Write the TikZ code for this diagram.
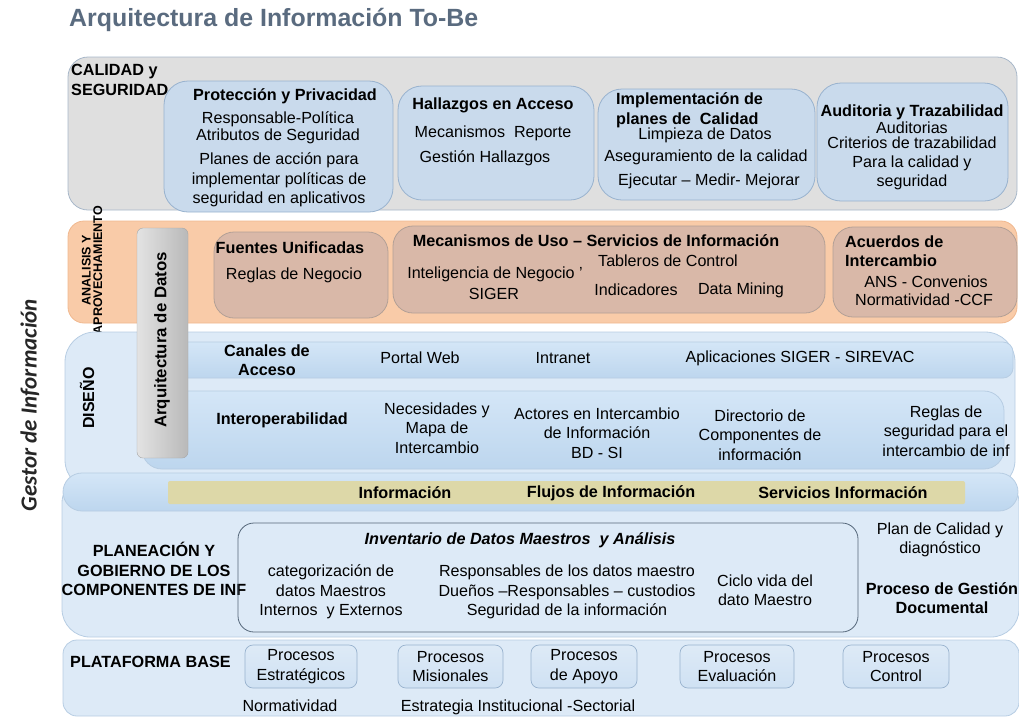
\documentclass[tikz,border=0pt]{standalone}
\usepackage{fontspec}
\setmainfont{Liberation Sans}
\newfontfamily\gestorfont{Carlito}

\definecolor{titulo}{HTML}{5A6B7F}
\definecolor{grisband}{HTML}{DFDFDF}
\definecolor{grisborde}{HTML}{A7B7C9}
\definecolor{azulcaja}{HTML}{C9DAEC}
\definecolor{azulborde}{HTML}{98B2CE}
\definecolor{naranja}{HTML}{F9CBA8}
\definecolor{naranjaborde}{HTML}{F0B88F}
\definecolor{cafecaja}{HTML}{D9B8A8}
\definecolor{cafeborde}{HTML}{B3A096}
\definecolor{azulband}{HTML}{DDEAF7}
\definecolor{azulbandborde}{HTML}{B7CDE3}
\definecolor{franjaarriba}{HTML}{D4E6F7}
\definecolor{franjaabajo}{HTML}{BDD6EE}
\definecolor{caqui}{HTML}{DDD8A8}
\definecolor{procfill}{HTML}{CFE1F3}
\definecolor{inventborde}{HTML}{55677A}

\tikzset{
  banda/.style={line width=0.8pt, rounded corners=#1},
  caja/.style={draw=azulborde, fill=azulcaja, line width=0.8pt, rounded corners=24pt},
  cajacafe/.style={draw=cafeborde, fill=cafecaja, line width=0.8pt, rounded corners=20pt},
  franja/.style={draw=azulbandborde, top color=franjaarriba, bottom color=franjaabajo, line width=0.8pt},
  txt/.style={font=\fontsize{16.1}{19.5}\selectfont, align=center},
  tit/.style={font=\bfseries\fontsize{16.2}{19.5}\selectfont, align=center},
  proceso/.style={txt, draw=azulborde, top color=procfill!70!white, bottom color=procfill, line width=0.7pt,
    rounded corners=8pt, minimum height=43pt, inner sep=2pt}
}

\begin{document}
\begin{tikzpicture}[x=1pt,y=1pt]
\tikzstyle{every node}+=[inner sep=0pt]
\useasboundingbox (0,0) rectangle (1019,-716);

\node [anchor=west, text=titulo, font=\bfseries\fontsize{24.9}{28}\selectfont] (titulo) at (69,-20) {Arquitectura de Información To-Be};
\node [rotate=90, font=\gestorfont\bfseries\itshape\fontsize{23}{26}\selectfont, text=black!85] (gestor) at (30,-405) {Gestor de Información};

% calidad y seguridad
\draw [banda=20pt, draw=grisborde, fill=grisband] (68,-57) rectangle (1017,-210);
\node [tit, anchor=west, align=left] (calidad) at (71,-80) {CALIDAD y\\SEGURIDAD};
\draw [caja] (164,-81) rectangle (393,-212);
\draw [caja] (398,-86) rectangle (594,-200);
\draw [caja] (598,-89) rectangle (815,-200);
\draw [caja] (817,-83) rectangle (1008,-201);
\node [tit] (proteccion) at (285,-96) {Protección y Privacidad};
\node [txt, font=\fontsize{16.1}{17}\selectfont] (responsable) at (278,-128) {Responsable-Política\\Atributos de Seguridad};
\node [txt] (planes) at (279,-180) {Planes de acción para\\implementar políticas de\\seguridad en aplicativos};
\node [tit] (hallazgos) at (493,-105) {Hallazgos en Acceso};
\node [txt] (reporte) at (493,-133) {Mecanismos\ \ Reporte};
\node [txt] (gestionh) at (485,-158) {Gestión Hallazgos};
\node [tit, anchor=west, align=left] (implementacion) at (616,-110) {Implementación de\\planes de\ \ Calidad};
\node [txt] (limpieza) at (705,-135) {Limpieza de Datos};
\node [txt] (aseguramiento) at (706,-157) {Aseguramiento de la calidad};
\node [txt] (ejecutar) at (709,-181) {Ejecutar -- Medir- Mejorar};
\node [tit] (auditoria) at (912,-112) {Auditoria y Trazabilidad};
\node [txt, font=\fontsize{16.1}{15}\selectfont] (criterios) at (912,-135) {Auditorias\\Criterios de trazabilidad};
\node [txt] (paracalidad) at (912,-173) {Para la calidad y\\seguridad};

% analisis y aprovechamiento
\draw [banda=16pt, draw=naranjaborde, fill=naranja] (68,-221) rectangle (1017,-323);
\node [rotate=90, font=\bfseries\fontsize{12.5}{11.5}\selectfont, align=center] (analisis) at (92,-270) {ANALISIS Y\\APROVECHAMIENTO};
\draw [cajacafe] (214,-232) rectangle (388,-318);
\draw [cajacafe] (393,-226) rectangle (825,-313);
\draw [cajacafe] (833,-227) rectangle (1017,-317);
\node [tit] (fuentes) at (290,-248) {Fuentes Unificadas};
\node [txt] (reglasneg) at (294,-275) {Reglas de Negocio};
\node [tit] (mecanismos) at (596,-241) {Mecanismos de Uso -- Servicios de Información};
\node [txt] (tableros) at (668,-261) {Tableros de Control};
\node [txt] (inteligencia) at (495,-274) {Inteligencia de Negocio '};
\node [txt] (siger) at (494,-294) {SIGER};
\node [txt] (indicadores) at (636,-290) {Indicadores};
\node [txt] (mining) at (741,-290) {Data Mining};
\node [tit, anchor=west, align=left] (acuerdos) at (845,-251) {Acuerdos de\\Intercambio};
\node [txt] (ans) at (926,-282) {ANS - Convenios};
\node [txt] (normaccf) at (924,-300) {Normatividad -CCF};

% diseno
\draw [banda=30pt, draw=azulbandborde, fill=azulband] (65,-332) rectangle (1015,-490);
\draw [franja, rounded corners=10pt] (140,-342) rectangle (1013,-378);
\draw [franja, rounded corners=20pt] (142,-391) rectangle (1004,-469);
\node [rotate=90, font=\bfseries\fontsize{16}{18}\selectfont] (diseno) at (87,-398) {DISEÑO};
\node [tit] (canales) at (267,-360) {Canales de\\Acceso};
\node [txt] (portal) at (420,-358) {Portal Web};
\node [txt] (intranet) at (563,-358) {Intranet};
\node [txt] (aplicaciones) at (800,-358) {Aplicaciones SIGER - SIREVAC};
\node [tit] (interop) at (282,-420) {Interoperabilidad};
\node [txt] (necesidades) at (437,-428) {Necesidades y\\Mapa de\\Intercambio};
\node [txt] (actores) at (597,-433) {Actores en Intercambio\\de Información\\BD - SI};
\node [txt] (directorio) at (760,-435) {Directorio de\\Componentes de\\información};
\node [txt] (reglasseg) at (946,-431) {Reglas de\\seguridad para el\\intercambio de inf};

% arquitectura de datos
\draw [rounded corners=6pt, draw=gray!70, left color=gray!22, right color=gray!55] (137,-228) rectangle (188,-458);
\node [rotate=90, font=\bfseries\fontsize{16.8}{20}\selectfont] (arquitectura) at (162,-340) {Arquitectura de Datos};

% planeacion y gobierno
\draw [banda=28pt, draw=azulbandborde, fill=azulband] (62,-475) rectangle (1019,-637);
\draw [banda=19pt, draw=azulbandborde, top color=franjaarriba, bottom color=franjaabajo] (63,-473) rectangle (1018,-511);
\draw [fill=caqui, draw=none, rounded corners=2pt] (168,-481) rectangle (965,-504);
\node [tit] (informacion) at (405,-493) {Información};
\node [tit] (flujos) at (611,-493) {Flujos de Información};
\node [tit] (servicios) at (843,-493) {Servicios Información};
\node [tit] (planeacion) at (154,-569) {PLANEACIÓN Y\\GOBIERNO DE LOS\\COMPONENTES DE INF};
\draw [draw=inventborde, line width=0.8pt, rounded corners=16pt] (238,-523) rectangle (858,-632);
\node [tit, font=\bfseries\itshape\fontsize{16.2}{19.5}\selectfont] (inventario) at (520,-540) {Inventario de Datos Maestros\ \ y Análisis};
\node [txt] (categorizacion) at (331,-592) {categorización de\\datos Maestros\\Internos\ \ y Externos};
\node [txt] (responsables) at (567,-592) {Responsables de los datos maestro\\Dueños --Responsables -- custodios\\Seguridad de la información};
\node [txt] (ciclo) at (765,-590) {Ciclo vida del\\dato Maestro};
\node [txt] (plancalidad) at (940,-540) {Plan de Calidad y\\diagnóstico};
\node [tit] (documental) at (942,-598) {Proceso de Gestión\\Documental};

% plataforma base
\draw [banda=14pt, draw=azulbandborde, fill=azulband] (63,-640) rectangle (1019,-716);
\node [tit, anchor=west] (plataforma) at (70,-662) {PLATAFORMA BASE};
\node [proceso, minimum width=112pt] (estrategicos) at (301,-666.5) {Procesos\\Estratégicos};
\node [proceso, minimum width=105pt] (misionales) at (450.5,-666.5) {Procesos\\Misionales};
\node [proceso, minimum width=106pt] (apoyo) at (584,-666.5) {Procesos\\de Apoyo};
\node [proceso, minimum width=114pt] (evaluacion) at (737,-666.5) {Procesos\\Evaluación};
\node [proceso, minimum width=106pt] (control) at (896,-666.5) {Procesos\\Control};
\node [txt, anchor=base] (normatividad) at (290,-711) {Normatividad};
\node [txt, anchor=base] (estrategia) at (518,-711) {Estrategia Institucional -Sectorial};
\end{tikzpicture}
\end{document}
